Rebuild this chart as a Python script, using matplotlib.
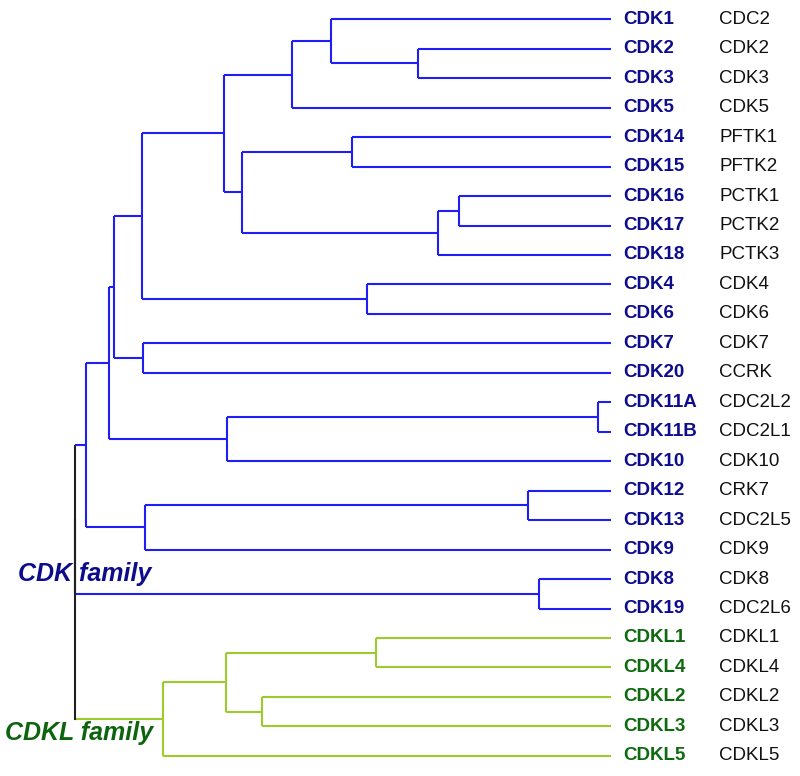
import matplotlib
matplotlib.use("Agg")
from matplotlib import pyplot as plt

# leaf order top -> bottom, with the old gene names
LEAVES = ["CDK1", "CDK2", "CDK3", "CDK5", "CDK14", "CDK15", "CDK16", "CDK17",
          "CDK18", "CDK4", "CDK6", "CDK7", "CDK20", "CDK11A", "CDK11B", "CDK10",
          "CDK12", "CDK13", "CDK9", "CDK8", "CDK19",
          "CDKL1", "CDKL4", "CDKL2", "CDKL3", "CDKL5"]
ALIASES = ["CDC2", "CDK2", "CDK3", "CDK5", "PFTK1", "PFTK2", "PCTK1", "PCTK2",
           "PCTK3", "CDK4", "CDK6", "CDK7", "CCRK", "CDC2L2", "CDC2L1", "CDK10",
           "CRK7", "CDC2L5", "CDK9", "CDK8", "CDC2L6",
           "CDKL1", "CDKL4", "CDKL2", "CDKL3", "CDKL5"]

# tree: (depth of the join, [children]); leaves sit at depth 1.0
CDK_TREE = (0.0, [
    (0.021, [
        (0.063, [
            (0.073, [
                (0.125, [
                    (0.278, [
                        (0.405, [(0.478, ["CDK1", (0.640, ["CDK2", "CDK3"])]), "CDK5"]),
                        (0.312, [(0.517, ["CDK14", "CDK15"]),
                                 (0.677, [(0.716, ["CDK16", "CDK17"]), "CDK18"])]),
                    ]),
                    (0.545, ["CDK4", "CDK6"]),
                ]),
                (0.127, ["CDK7", "CDK20"]),
            ]),
            (0.284, [(0.976, ["CDK11A", "CDK11B"]), "CDK10"]),
        ]),
        (0.131, [(0.845, ["CDK12", "CDK13"]), "CDK9"]),
    ]),
    (0.866, ["CDK8", "CDK19"]),
])
CDKL_TREE = (0.164, [
    (0.282, [(0.562, ["CDKL1", "CDKL4"]), (0.349, ["CDKL2", "CDKL3"])]),
    "CDKL5",
])

BLUE = "#1f1ff5"
GREEN = "#9ccc2c"
LW = 1.5

fig = plt.figure(figsize=(8, 7.76), dpi=100)
ax = fig.add_axes([0, 0, 1, 1])
ax.set_xlim(-75 / 536, 725 / 536)
ax.set_ylim((776 - 19.3) / 29.46, -19.3 / 29.46)
ax.axis("off")


def ypos(node):
    if isinstance(node, str):
        return LEAVES.index(node)
    return sum(ypos(c) for c in node[1]) / len(node[1])


def draw(node, parent_depth, color, vcolor=None):
    y = ypos(node)
    depth = 1.0 if isinstance(node, str) else node[0]
    ax.plot([parent_depth, depth], [y, y], color=color, lw=LW, solid_capstyle="butt")
    if isinstance(node, str):
        return
    ys = [ypos(c) for c in node[1]]
    ax.plot([depth, depth], [min(ys), max(ys)], color=vcolor or color, lw=LW,
            solid_capstyle="butt")
    for c in node[1]:
        draw(c, depth, color)


# root: black vertical joining the two families
draw(CDK_TREE, 0.0, BLUE, vcolor="#202020")
draw(CDKL_TREE, 0.0, GREEN)
ax.plot([0, 0], [ypos(CDK_TREE), ypos(CDKL_TREE)], color="#202020", lw=LW)

fam = ["Liberation Sans", "DejaVu Sans"]
for i, (name, alias) in enumerate(zip(LEAVES, ALIASES)):
    c = "#0c0c8c" if name.startswith("CDK") and not name.startswith("CDKL") else "#0e6a0e"
    ax.text(1.0224, i, name, color=c, fontsize=13.5, fontweight="bold",
            family=fam, va="center", ha="left")
    ax.text(1.2015, i, alias, color="#111111", fontsize=13.5,
            family=fam, va="center", ha="left")

ax.text(-57 / 536, (574 - 19.3) / 29.46, "CDK family", color="#0c0c8c", fontsize=18,
        fontweight="bold", fontstyle="italic", family=fam, va="center", ha="left")
ax.text(-70 / 536, (733 - 19.3) / 29.46, "CDKL family", color="#0e640e", fontsize=18,
        fontweight="bold", fontstyle="italic", family=fam, va="center", ha="left")

fig.savefig("out.png", dpi=100)
